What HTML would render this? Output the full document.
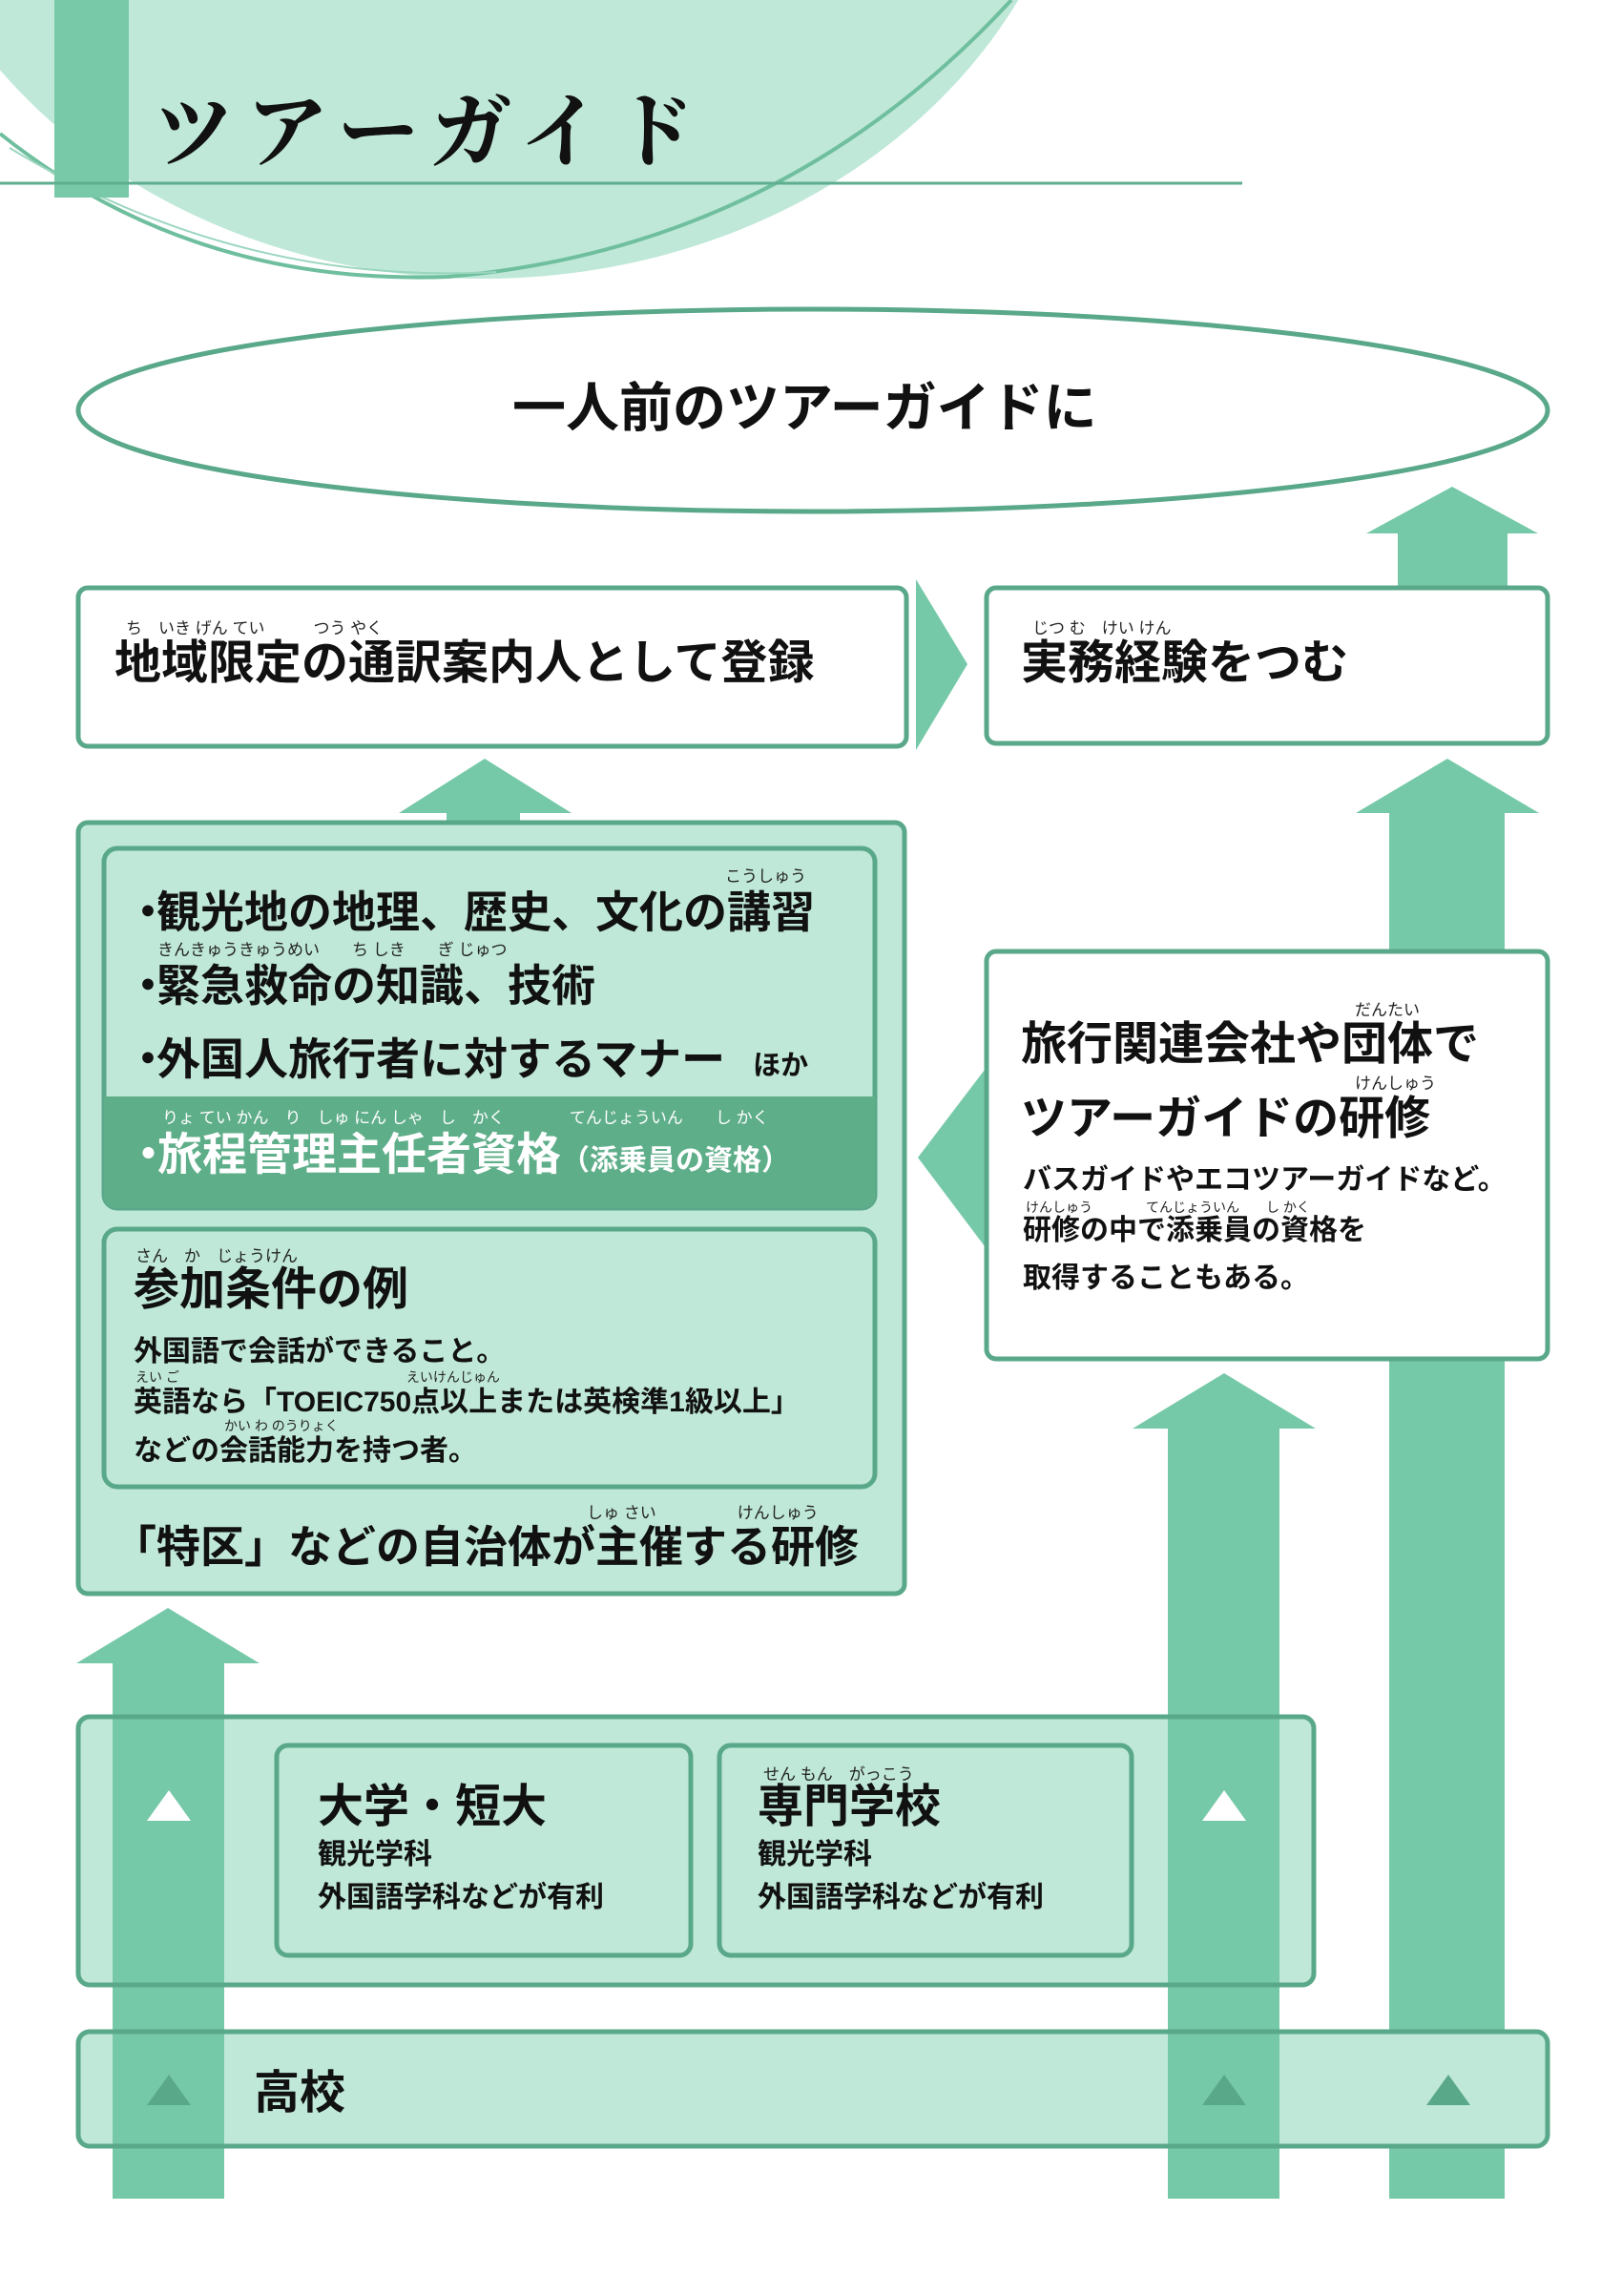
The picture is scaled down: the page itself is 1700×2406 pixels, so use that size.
<!DOCTYPE html>
<html><head><meta charset="utf-8">
<style>
html,body{margin:0;padding:0;background:#fff;}
#c{position:relative;width:1700px;height:2406px;overflow:hidden;font-family:"Liberation Sans","Noto Sans CJK JP",sans-serif;font-weight:bold;color:#111;}
.t{position:absolute;white-space:nowrap;line-height:1;}
.r{position:absolute;white-space:nowrap;line-height:1;font-size:17px;font-weight:normal;color:#222;}
svg{position:absolute;left:0;top:0;}
</style></head><body><div id="c">
<svg width="1700" height="2406" viewBox="0 0 1700 2406">
  <ellipse cx="507" cy="-246" rx="630" ry="538" fill="#bfe8d8"/>
  <path d="M0 140 Q200 300 470 290 Q820 260 1060 0" fill="none" stroke="#6fbf9f" stroke-width="4"/>
  <path d="M10 155 Q250 300 520 285" fill="none" stroke="#9bd6bf" stroke-width="2"/>
  <rect x="57" y="0" width="78" height="207" fill="#78c9a8"/>
  <line x1="0" y1="192" x2="1302" y2="192" stroke="#5fae8f" stroke-width="3"/>
  <ellipse cx="852" cy="430" rx="770" ry="106" fill="#fff" stroke="#5aa88a" stroke-width="5"/>
  <polygon points="1465,614 1465,559 1432,559 1522,510 1612,559 1580,559 1580,614" fill="#76c9a8"/>
  <rect x="82" y="616" width="868" height="166" rx="10" fill="#fff" stroke="#5aa88a" stroke-width="5"/>
  <polygon points="960,607 1014,696 960,786 960,607" fill="#76c9a8"/>
  <rect x="1034" y="616" width="588" height="163" rx="10" fill="#fff" stroke="#5aa88a" stroke-width="5"/>
  <polygon points="1456,2304 1456,852 1421,852 1517,795 1613,852 1577,852 1577,2304" fill="#76c9a8"/>
  <polygon points="468,860 468,852 418,852 508,795 599,852 545,852 545,860" fill="#76c9a8"/>
  <rect x="82" y="862" width="866" height="808" rx="10" fill="#bfe8d8" stroke="#5aa88a" stroke-width="5"/>
  <rect x="109" y="889" width="808" height="377" rx="14" fill="#bfe8d8" stroke="#5aa88a" stroke-width="5"/>
  <path d="M109 1149 H917 V1252 Q917 1266 903 1266 H123 Q109 1266 109 1252 Z" fill="#5fae8a"/>
  <rect x="109" y="1288" width="808" height="270" rx="14" fill="#bfe8d8" stroke="#5aa88a" stroke-width="5"/>
  <polygon points="1032,1121 962,1213 1032,1306" fill="#76c9a8"/>
  <rect x="1034" y="997" width="588" height="427" rx="10" fill="#fff" stroke="#5aa88a" stroke-width="5"/>
  <rect x="82" y="1799" width="1295" height="281" rx="12" fill="#bfe8d8"/>
  <rect x="82" y="2129" width="1540" height="120" rx="12" fill="#bfe8d8"/>
  <polygon points="1224,2304 1224,1497 1187,1497 1283,1439 1379,1497 1341,1497 1341,2304" fill="#76c9a8"/>
  <polygon points="118,2304 118,1743 80,1743 176,1685 272,1743 235,1743 235,2304" fill="#76c9a8"/>
  <rect x="82" y="1799" width="1295" height="281" rx="12" fill="none" stroke="#5aa88a" stroke-width="5"/>
  <rect x="82" y="2129" width="1540" height="120" rx="12" fill="none" stroke="#5aa88a" stroke-width="5"/>
  <rect x="290" y="1829" width="434" height="220" rx="12" fill="#bfe8d8" stroke="#5aa88a" stroke-width="5"/>
  <rect x="754" y="1829" width="432" height="220" rx="12" fill="#bfe8d8" stroke="#5aa88a" stroke-width="5"/>
  <polygon points="177,1876 200,1908 154,1908" fill="#fff"/>
  <polygon points="1283,1876 1306,1908 1260,1908" fill="#fff"/>
  <polygon points="177,2174 200,2206 154,2206" fill="#5aa88a"/>
  <polygon points="1283,2174 1306,2206 1260,2206" fill="#5aa88a"/>
  <polygon points="1518,2174 1541,2206 1495,2206" fill="#5aa88a"/>
</svg>

<div class="t" style="left:160px;top:88px;font-size:86px;font-family:'Noto Serif CJK SC','Liberation Serif',serif;letter-spacing:12px;">ツアーガイド</div>
<div class="t" style="left:537px;top:400px;font-size:56px;">一人前のツアーガイドに</div>

<div class="r" style="left:132px;top:650px;">ち　いき げん てい　　　つう やく</div>
<div class="t" style="left:120px;top:671px;font-size:49px;">地域限定の通訳案内人として登録</div>
<div class="r" style="left:1082px;top:650px;">じつ む　けい けん</div>
<div class="t" style="left:1070px;top:671px;font-size:49px;">実務経験をつむ</div>

<div class="r" style="left:760px;top:910px;">こうしゅう</div>
<div class="t" style="left:132px;top:933px;font-size:46px;">・<span style="margin-left:-14px">観光地の地理、歴史、文化の講習</span></div>
<div class="r" style="left:165px;top:987px;">きんきゅうきゅうめい　　ち しき　　ぎ じゅつ</div>
<div class="t" style="left:132px;top:1010px;font-size:46px;">・<span style="margin-left:-14px">緊急救命の知識、技術</span></div>
<div class="t" style="left:132px;top:1087px;font-size:46px;">・<span style="margin-left:-14px">外国人旅行者に対するマナー</span><span style="font-size:29px;">　ほか</span></div>
<div class="r" style="left:170px;top:1163px;color:#fff;">りょ てい かん　り　しゅ にん しゃ　し　かく　　　　てんじょういん　　し かく</div>
<div class="t" style="left:132px;top:1186px;font-size:47px;color:#fff;">・<span style="margin-left:-14px">旅程管理主任者資格</span><span style="font-size:30px;">（添乗員の資格）</span></div>

<div class="r" style="left:142px;top:1308px;">さん　か　じょうけん</div>
<div class="t" style="left:140px;top:1328px;font-size:48px;">参加条件の例</div>
<div class="t" style="left:140px;top:1402px;font-size:30px;">外国語で会話ができること。</div>
<div class="r" style="left:142px;top:1436px;font-size:14px;">えい ご　　　　　　　　　　　　　　　　　えいけんじゅん</div>
<div class="t" style="left:140px;top:1455px;font-size:30px;">英語なら「TOEIC750点以上または英検準1級以上」</div>
<div class="r" style="left:235px;top:1487px;font-size:14px;">かい わ のうりょく</div>
<div class="t" style="left:140px;top:1506px;font-size:30px;">などの会話能力を持つ者。</div>

<div class="r" style="left:615px;top:1577px;">しゅ さい　　　　　けんしゅう</div>
<div class="t" style="left:118px;top:1598px;font-size:46px;">「特区」などの自治体が主催する研修</div>

<div class="r" style="left:1420px;top:1050px;">だんたい</div>
<div class="t" style="left:1070px;top:1071px;font-size:48px;">旅行関連会社や団体で</div>
<div class="r" style="left:1420px;top:1127px;">けんしゅう</div>
<div class="t" style="left:1070px;top:1149px;font-size:48px;">ツアーガイドの研修</div>
<div class="t" style="left:1072px;top:1222px;font-size:30px;">バスガイドやエコツアーガイドなど。</div>
<div class="r" style="left:1075px;top:1258px;font-size:14px;">けんしゅう　　　　てんじょういん　　し かく</div>
<div class="t" style="left:1072px;top:1275px;font-size:30px;">研修の中で添乗員の資格を</div>
<div class="t" style="left:1072px;top:1325px;font-size:30px;">取得することもある。</div>

<div class="t" style="left:333px;top:1870px;font-size:48px;">大学・短大</div>
<div class="t" style="left:333px;top:1929px;font-size:30px;">観光学科</div>
<div class="t" style="left:333px;top:1974px;font-size:30px;">外国語学科などが有利</div>
<div class="r" style="left:800px;top:1851px;">せん もん　がっこう</div>
<div class="t" style="left:794px;top:1870px;font-size:48px;">専門学校</div>
<div class="t" style="left:794px;top:1929px;font-size:30px;">観光学科</div>
<div class="t" style="left:794px;top:1974px;font-size:30px;">外国語学科などが有利</div>

<div class="t" style="left:266px;top:2170px;font-size:48px;">高校</div>
</div></body></html>
